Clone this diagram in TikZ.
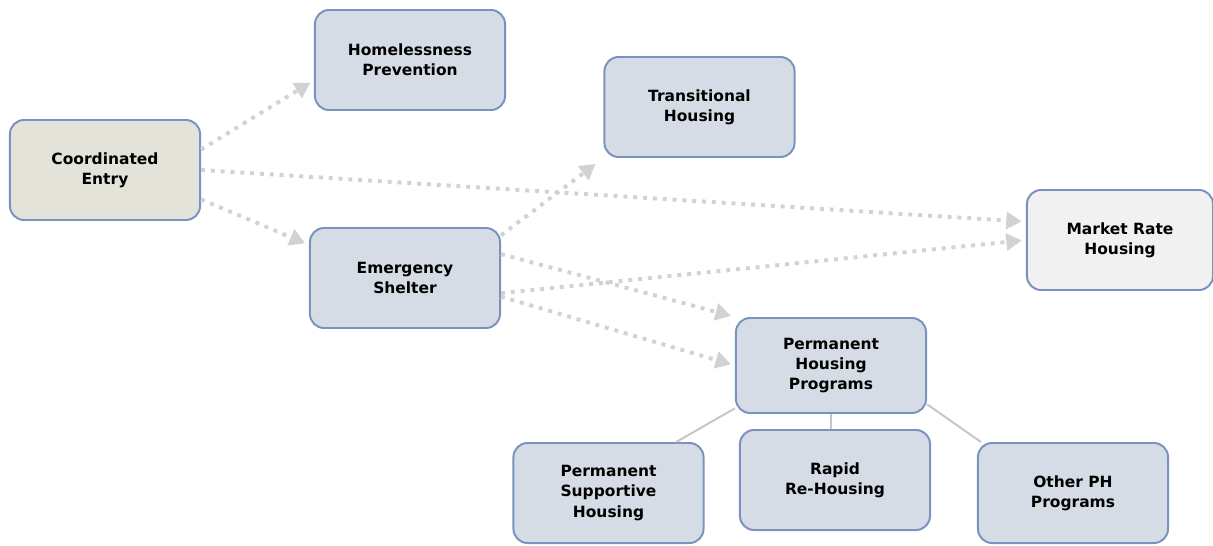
\documentclass[tikz,border=0pt]{standalone}
\usepackage{fontspec}
\setmainfont{DejaVu Sans}
\usetikzlibrary{arrows.meta}

\definecolor{boxfill}{HTML}{D6DCE5}
\definecolor{boxline}{HTML}{7A93BE}
\definecolor{entryfill}{HTML}{E3E3DA}
\definecolor{marketfill}{HTML}{F1F1F1}
\definecolor{flowgray}{HTML}{D2D2D2}
\definecolor{treegray}{HTML}{C6C6C6}

\tikzset{
  program/.style={draw=boxline,line width=1.4pt,fill=boxfill,rounded corners=10pt,
    minimum width=4.75cm,minimum height=2.5cm,align=center,
    font=\fontsize{11}{14.3}\selectfont\bfseries},
}

\begin{document}
\begin{tikzpicture}[x=0.025cm,y=-0.025cm]

\useasboundingbox (0,0) rectangle (1213,546);

\begin{scope}[every node/.style={program}]
	\node[fill=entryfill] (ce) at (105,170) {Coordinated\\Entry};
	\node (hp) at (410,60) {Homelessness\\Prevention};
	\node (th) at (699.5,107) {Transitional\\Housing};
	\node[fill=marketfill,minimum width=4.65cm] (mr) at (1120,240) {Market Rate\\Housing};
	\node (es) at (405,278) {Emergency\\Shelter};
	\node[minimum height=2.375cm] (php) at (831,365.5) {Permanent\\Housing\\Programs};
	\node (psh) at (608.5,493) {Permanent\\Supportive\\Housing};
	\node (rrh) at (835,480) {Rapid\\Re-Housing};
	\node (oph) at (1073,493) {Other PH\\Programs};
\end{scope}

\begin{scope}[>={Triangle[length=11pt,width=12pt]},
	every edge/.style={draw=flowgray,line width=2.8pt,dash pattern=on 2.8pt off 4.2pt,shorten >=3pt}]
	\path [->] (ce.12) edge (hp.192);
	\path [->] (ce.east) edge (mr.169);
	\path [->] (ce.-17) edge (es.161);
	\path [->] (es.24) edge[shorten >=7pt] (th.south west);
	\path [->] (es.14) edge (php.north west);
	\path [->] (es.-9) edge (mr.west);
	\path [->] (es.-11) edge (php.west);
\end{scope}

\begin{scope}[every path/.style={draw=treegray,line width=1.4pt}]
	\draw (php.204) -- (psh.37);
	\draw (php.south) -- (php.south |- rrh.north);
	\draw (php.-22) -- (oph.151);
\end{scope}

\end{tikzpicture}
\end{document}
